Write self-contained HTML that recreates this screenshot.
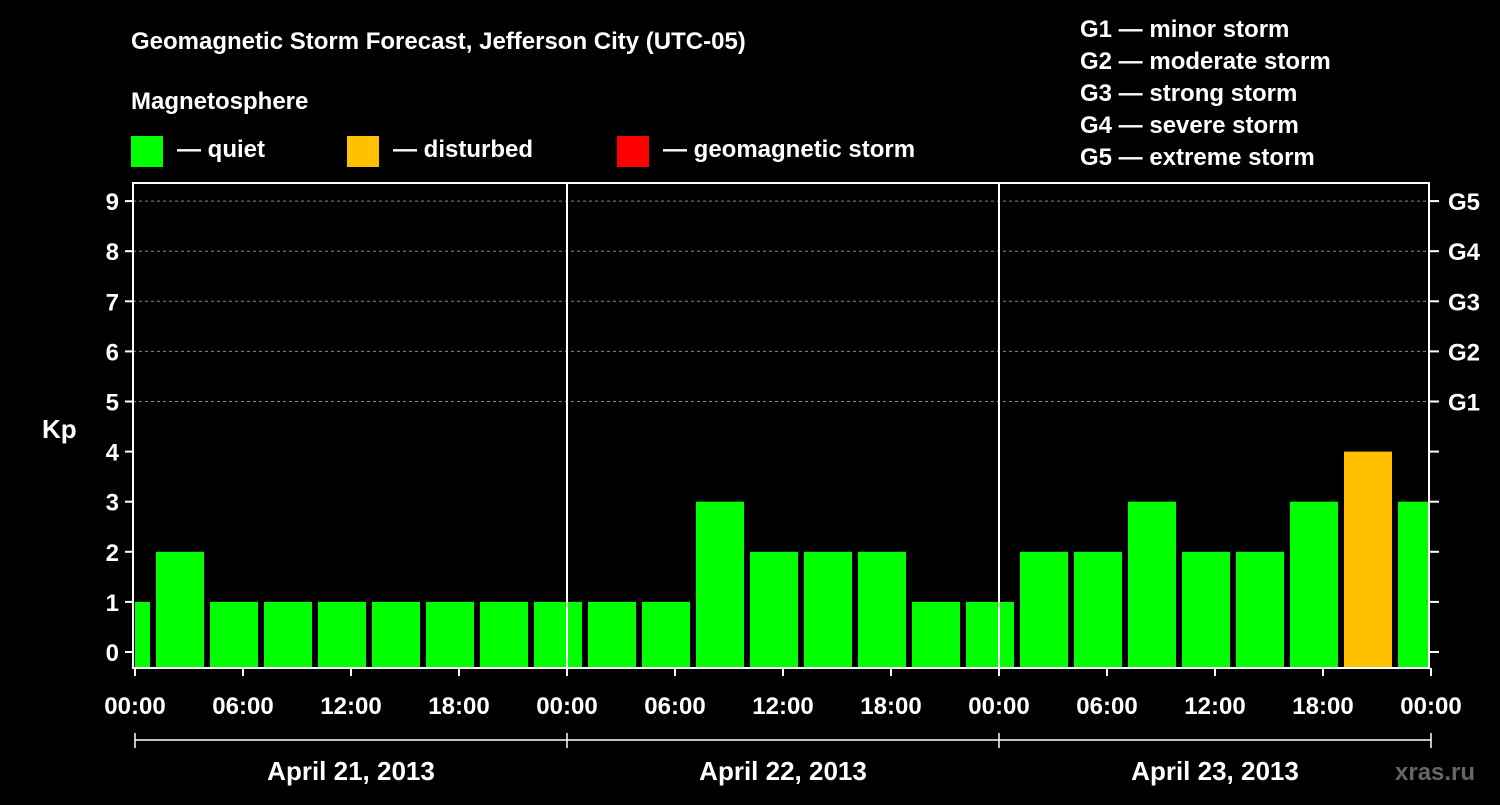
<!DOCTYPE html>
<html><head><meta charset="utf-8"><style>
body{margin:0;background:#000;width:1500px;height:800px;overflow:hidden}
svg text{font-family:"Liberation Sans",Arial,sans-serif;font-weight:bold;fill:#fff}
</style></head><body>
<svg id="chart" width="1500" height="800" xmlns="http://www.w3.org/2000/svg">
<rect width="1500" height="800" fill="#000"/>
<text x="131" y="49" font-size="24">Geomagnetic Storm Forecast, Jefferson City (UTC-05)</text>
<text x="131" y="109" font-size="24">Magnetosphere</text>
<g>
<rect x="131" y="136" width="32" height="31" fill="#00ff00"/>
<text x="177" y="157" font-size="24">— quiet</text>
<rect x="347" y="136" width="32" height="31" fill="#ffc000"/>
<text x="393" y="157" font-size="24">— disturbed</text>
<rect x="617" y="136" width="32" height="31" fill="#ff0000"/>
<text x="663" y="157" font-size="24">— geomagnetic storm</text>
</g>
<g font-size="24">
<text x="1080" y="37">G1 — minor storm</text>
<text x="1080" y="69">G2 — moderate storm</text>
<text x="1080" y="101">G3 — strong storm</text>
<text x="1080" y="133">G4 — severe storm</text>
<text x="1080" y="165">G5 — extreme storm</text>
</g>
<text x="42" y="438" font-size="26">Kp</text>
<text x="1395" y="780" font-size="24" style="fill:#666">xras.ru</text>
<g id="grid"></g><g id="bars"></g><g id="axes"></g>
</svg>
<script>
const kpValues=[1,2,1,1,1,1,1,1,1,1,1,3,2,2,2,1,1,2,2,3,2,2,3,4,3];
const binStartHours=[-2,1,4,7,10,13,16,19,22,25,28,31,34,37,40,43,46,49,52,55,58,61,64,67,70];
const yTicks=[0,1,2,3,4,5,6,7,8,9];
const gLabels=["G1","G2","G3","G4","G5"];
const xTickLabels=["00:00","06:00","12:00","18:00","00:00","06:00","12:00","18:00","00:00","06:00","12:00","18:00","00:00"];
const dayLabels=["April 21, 2013","April 22, 2013","April 23, 2013"];
const NS="http://www.w3.org/2000/svg";
const X0=135,X1=1431,HOURS=72,PT=183,PB=668;
const xs=h=>X0+(X1-X0)*h/HOURS;
const ys=v=>652-50.1*v;
function mk(tag,attrs,parent,txt){const e=document.createElementNS(NS,tag);for(const k in attrs)e.setAttribute(k,attrs[k]);if(txt!==undefined)e.textContent=txt;document.getElementById(parent).appendChild(e);return e;}
// grid
yTicks.forEach(v=>{if(v>=5){const l=mk('line',{x1:X0-2,x2:X1-2,y1:ys(v),y2:ys(v),stroke:'#888','stroke-dasharray':'3,3','stroke-width':1},'grid');

}});
// bars
kpValues.forEach((v,i)=>{let a=xs(binStartHours[i])+3,b=xs(binStartHours[i]+3)-3;a=Math.max(a,X0);b=Math.min(b,X1-3);
const c=v>=5?'#ff0000':(v>=4?'#ffc000':'#00ff00');
const r=mk('rect',{x:a,y:ys(v),width:b-a,height:PB-ys(v),fill:c},'bars');

});
// frame
const f=mk('rect',{x:X0-2,y:PT,width:X1-X0,height:PB-PT,fill:'none',stroke:'#fff','stroke-width':2},'axes');


[1,2].forEach(d=>{const l=mk('line',{x1:xs(d*24),x2:xs(d*24),y1:PT,y2:PB,stroke:'#fff','stroke-width':2},'axes');

});
yTicks.forEach(v=>{const y=ys(v);
mk('line',{x1:X0-10,x2:X0-2,y1:y,y2:y,stroke:'#fff','stroke-width':2},'axes');
mk('line',{x1:X1-2,x2:X1+8,y1:y,y2:y,stroke:'#fff','stroke-width':2},'axes');
const t=mk('text',{x:X0-16,y:y+9,'font-size':24,'text-anchor':'end'},'axes',String(v));


if(v>=5){const g=mk('text',{x:1448,y:y+9,'font-size':24},'axes',gLabels[v-5]);

}});
xTickLabels.forEach((s,i)=>{const x=xs(i*6);
mk('line',{x1:x,x2:x,y1:PB,y2:PB+8,stroke:'#fff','stroke-width':2},'axes');
const t=mk('text',{x:x,y:714,'font-size':24,'text-anchor':'middle'},'axes',s);

});
mk('line',{x1:X0,x2:X1,y1:740,y2:740,stroke:'#fff','stroke-width':1.5},'axes');
[0,1,2,3].forEach(d=>mk('line',{x1:xs(d*24),x2:xs(d*24),y1:733,y2:748,stroke:'#fff','stroke-width':1.5},'axes'));
dayLabels.forEach((s,i)=>{const t=mk('text',{x:xs(i*24+12),y:780,'font-size':26,'text-anchor':'middle'},'axes',s);

});
</script>
</body></html>
